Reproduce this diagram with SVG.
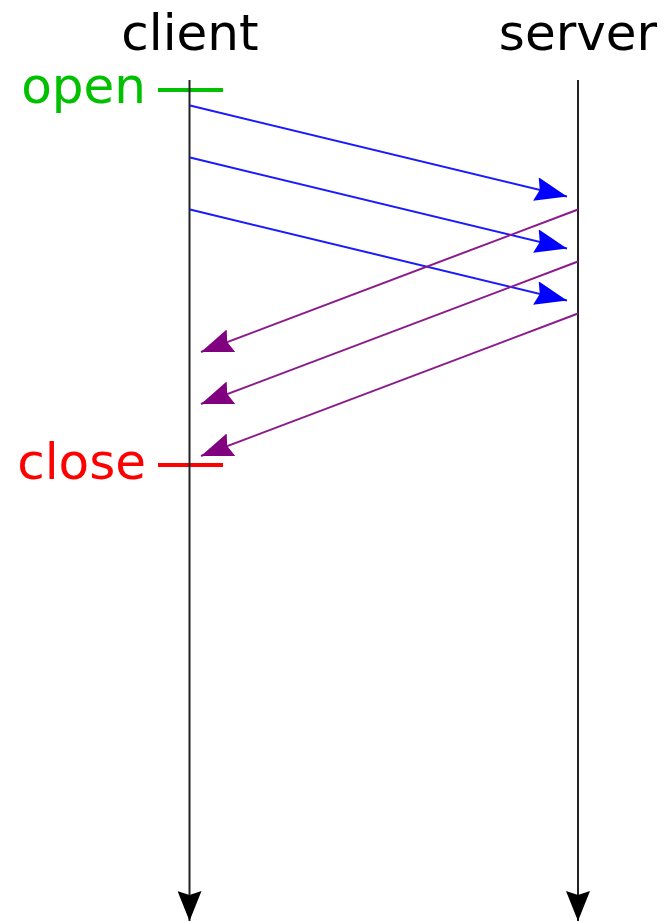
<svg xmlns="http://www.w3.org/2000/svg" width="667" height="922" viewBox="0 0 667 922">
<style>
.lbl{font-family:"DejaVu Sans",Verdana,sans-serif;font-size:50px}
.life{stroke:#222;stroke-width:2;fill:none}
.req{stroke:#1a1aff;stroke-width:2;fill:none}
.resp{stroke:#8b1a8b;stroke-width:2;fill:none}
</style>
<defs>
<marker id="ahBlack" markerUnits="userSpaceOnUse" markerWidth="30" markerHeight="24" refX="30" refY="12" orient="auto" viewBox="0 0 30 24"><path d="M0,0 L30,12 L0,24 L4,12 Z" fill="#000"/></marker>
<marker id="ahBlue" markerUnits="userSpaceOnUse" markerWidth="32" markerHeight="24" refX="32" refY="12" orient="auto" viewBox="0 0 32 24"><path d="M0,0 L32,12 L0,24 L4,12 Z" fill="#0000ff"/></marker>
<marker id="ahPurple" markerUnits="userSpaceOnUse" markerWidth="32" markerHeight="24" refX="32" refY="12" orient="auto" viewBox="0 0 32 24"><path d="M0,0 L32,12 L0,24 L4,12 Z" fill="#800080"/></marker>
</defs>
<g id="client">
<text class="lbl" x="190" y="50" text-anchor="middle" fill="#000">client</text>
</g>
<g id="server">
<text class="lbl" x="578" y="50" text-anchor="middle" fill="#000">server</text>
</g>
<g id="open">
<text class="lbl" x="146" y="103" text-anchor="end" fill="#00c000">open</text>
<line x1="158" y1="90" x2="223" y2="90" stroke="#00c000" stroke-width="4"/>
</g>
<g id="close">
<text class="lbl" x="146" y="479" text-anchor="end" fill="#ff0000">close</text>
<line x1="158" y1="465" x2="223" y2="465" stroke="#ff0000" stroke-width="4"/>
</g>
<g id="connectors">
<line class="life" x1="189.5" y1="80" x2="189.5" y2="921" marker-end="url(#ahBlack)"/>
<line class="life" x1="578" y1="80" x2="578" y2="921" marker-end="url(#ahBlack)"/>
<line class="req" x1="190" y1="105.5" x2="567" y2="196.5" marker-end="url(#ahBlue)"/>
<line class="req" x1="190" y1="157.5" x2="567" y2="248.5" marker-end="url(#ahBlue)"/>
<line class="req" x1="190" y1="209.5" x2="567" y2="300.5" marker-end="url(#ahBlue)"/>
<line class="resp" x1="578" y1="209.5" x2="201" y2="352" marker-end="url(#ahPurple)"/>
<line class="resp" x1="578" y1="261.5" x2="201" y2="404" marker-end="url(#ahPurple)"/>
<line class="resp" x1="578" y1="313.5" x2="201" y2="456" marker-end="url(#ahPurple)"/>
</g>
</svg>
